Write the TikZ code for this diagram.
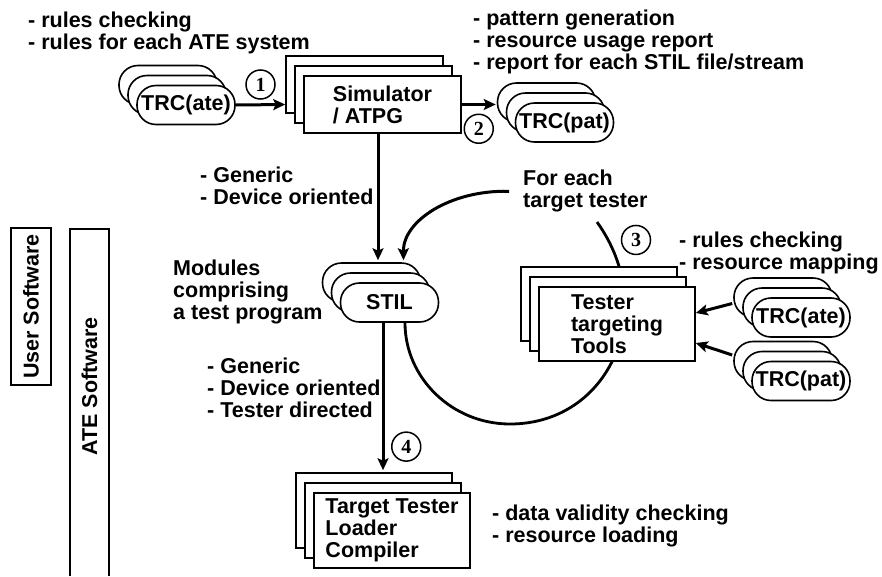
\documentclass[tikz,border=0pt]{standalone}
\usepackage{fontspec}
\setmainfont{Liberation Sans}
\newfontfamily\numfont{Liberation Serif}
\usetikzlibrary{positioning,shadows,calc,arrows.meta}

\begin{document}
\begin{tikzpicture}[x=1pt, y=-1pt,
    every node/.style = {font=\fontsize{21.5}{22}\selectfont\bfseries, inner sep=0pt},
      stack/.style = {draw, fill=white, line width=1.6pt,
        copy shadow={shadow xshift=-18pt, shadow yshift=20pt},
        copy shadow={shadow xshift=-9pt, shadow yshift=10pt}},
      toolbox/.style = {stack, minimum width=156pt, minimum height=#1, align=left},
      file/.style = {stack, rounded corners=19pt, minimum width=98pt, minimum height=39pt},
      note/.style = {anchor=north west, align=left},
      numc/.style = {draw, circle, line width=1.5pt, minimum size=29pt,
        font=\fontsize{20}{20}\selectfont\numfont\bfseries},
      arr/.style = {line width=3pt, -{Stealth[length=12pt, width=11pt, inset=2.5pt]}},
      sidebox/.style = {draw, line width=1.6pt, rotate=90}
    ]
    \useasboundingbox (0,0) rectangle (882,576);

    \node[note] (rulesA) at (28,12) {- rules checking\\- rules for each ATE system};
    \node[note] (patgen) at (473,10) {- pattern generation\\- resource usage report\\- report for each STIL file/stream};

    \node[file] (trcA1) at (186,105) {TRC(ate)};
    \node[toolbox=57pt, minimum width=157pt] (sim) at (382.5,104.5) {Simulator\\/ ATPG};
    \node[file] (trcP1) at (564.5,122.5) {TRC(pat)};
    \draw[arr] (trcA1.east) -- node[numc, above=5pt] (n1) {1} ($(sim.west)+(-18,0)$);
    \draw[arr] (sim.east) -- node[numc, below=9pt] (n2) {2} ($(trcP1.west |- sim.east)+(-19,0)$);

    \node[note] (gen1) at (200,167) {- Generic\\- Device oriented};
    \node[note] (mods) at (173,260) {Modules\\comprising\\a test program};
    \node[note] (each) at (523,170) {For each\\target tester};

    \node[file] (stil) at (389.5,302.5) {STIL};
    \draw[arr] ($(sim.south)+(-4.5,0)$) -- ($(stil.north)+(-11.5,-22)$);
    \draw[arr] ([xshift=-14pt]each.west) .. controls (450,190) and (403,221) .. ($(stil.north)+(14,-22)$);

    \coordinate (loop) at (597,222);
    \draw[line width=2.8pt] (loop) .. controls (660,310) and (610,424) .. (510,424)
        .. controls (452,424) and (405,378) .. ($(stil.south)+(15.5,0)$);

    \node[toolbox=74pt] (tester) at (617,324) {Tester\\targeting\\Tools};
    \node[numc, above=31pt of tester.north, xshift=19pt] (n3) {3};
    \node[note] (rmap) at (679,232) {- rules checking\\- resource mapping};
    \node[file] (trcA2) at (801,317.5) {TRC(ate)};
    \node[file] (trcP2) at (801,381) {TRC(pat)};
    \draw[arr] ($(trcA2.west)+(-19,-14)$) -- ($(tester.east)+(0,-11)$);
    \draw[arr] ($(trcP2.west)+(-19,-26)$) -- ($(tester.east)+(0,19)$);

    \node[note] (gen2) at (207,358) {- Generic\\- Device oriented\\- Tester directed};
    \node[toolbox=75pt] (ttl) at (392,530.5) {Target Tester\\Loader\\Compiler};
    \draw[arr] ($(stil.south)+(-6.5,0)$) -- node[numc, right=8pt, pos=0.84] (n4) {4} ($(ttl.north)+(-9,-22)$);
    \node[note] (dval) at (492,505) {- data validity checking\\- resource loading};

    \node[sidebox, minimum width=157pt, minimum height=40pt] (user) at (31,306.5) {User Software};
    \node[rotate=90] (ate) at (89.5,386.5) {ATE Software};
    \draw[line width=1.6pt] (70,576) |- (109,229) -- (109,576);
\end{tikzpicture}
\end{document}
